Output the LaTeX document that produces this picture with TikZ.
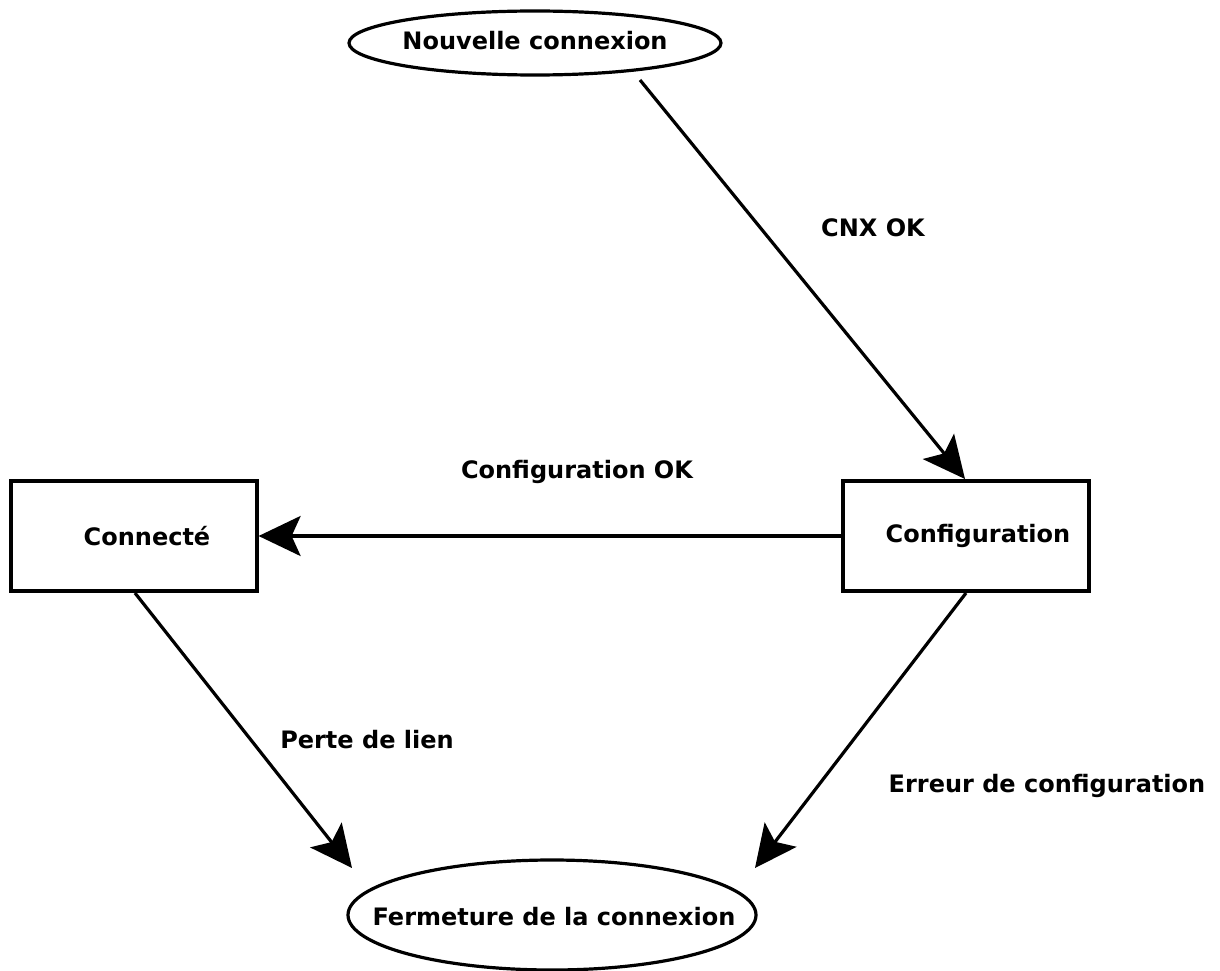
\documentclass[tikz,border=0pt]{standalone}
\usepackage{fontspec}
\setmainfont{DejaVu Sans}
\usetikzlibrary{arrows.meta}
\begin{document}
\begin{tikzpicture}[x=1pt,y=-1pt,
  line width=3.2pt,
  lbl/.style={font=\bfseries\fontsize{24}{28}\selectfont, inner sep=0pt},
  state/.style={draw, rectangle, minimum width=246pt, minimum height=110pt, lbl},
  flow/.style={-{Stealth[length=42pt,width=40pt,inset=9pt]}}]
\useasboundingbox (0,0) rectangle (1220,971);
\fill[white] (0,0) rectangle (1220,971);

% start and end states: text with an ellipse drawn round it
\node[lbl] (nouv) at (535,41) {Nouvelle connexion};
\draw (535,43) ellipse [x radius=186, y radius=32];
\node[state] (conn) at (134,536) {\hspace*{26pt}Connecté};
\node[state] (conf) at (966,536) {\hspace*{24pt}Configuration};
\node[lbl] (ferm) at (554,917) {Fermeture de la connexion};
\draw (552,915) ellipse [x radius=204, y radius=55];

\coordinate (nouvOut) at (640,80);
\coordinate (confIn) at (965,479);
\coordinate (connOut) at (135,593);
\coordinate (confOut) at (966,593);
\coordinate (fermL) at (352,868);
\coordinate (fermR) at (755,868);

\draw[flow] (nouvOut) -- (confIn);
\draw[flow] (conf.west) -- (conn.east);
\draw[flow] (connOut) -- (fermL);
\draw[flow] (confOut) -- (fermR);

\node[lbl] (l1) at (873,228) {CNX OK};
\node[lbl] (l2) at (577,472) {Configuration OK};
\node[lbl] (l3) at (367,740) {Perte de lien};
\node[lbl] (l4) at (1047,786) {Erreur de configuration};
\end{tikzpicture}
\end{document}
